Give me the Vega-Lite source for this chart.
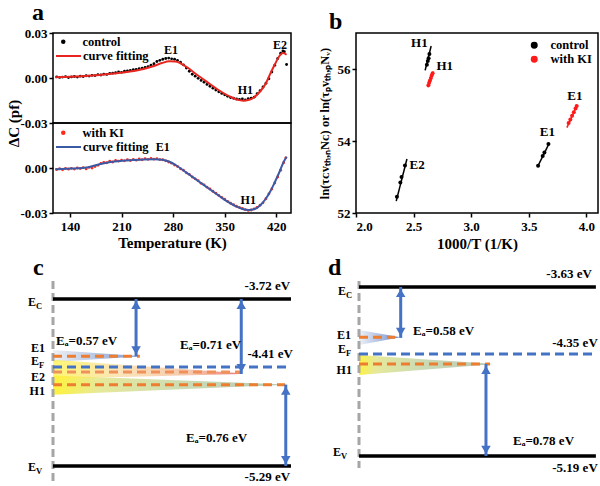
{
"$schema": "https://vega.github.io/schema/vega-lite/v6.json",
"padding": {"left": 5, "top": 0, "right": 0, "bottom": 0},
"background": "white",
"config": {
  "font": "Liberation Serif",
  "view": {"stroke": "black", "strokeWidth": 1.5},
  "axis": {"labelFont": "Liberation Serif", "labelFontWeight": "bold", "labelFontSize": 13, "labelColor": "black", "titleFont": "Liberation Serif", "titleFontSize": 15, "titleFontWeight": "bold", "titleColor": "black", "domain": false, "grid": false, "tickColor": "black", "tickSize": 4, "tickWidth": 1.5, "labelPadding": 2},
  "title": {"font": "Liberation Serif", "fontSize": 24, "fontWeight": "bold", "anchor": "start", "frame": "group", "color": "black"},
  "text": {"font": "Liberation Serif", "fontWeight": "bold", "fontSize": 13, "color": "black"},
  "legend": {"labelFont": "Liberation Serif", "labelFontWeight": "bold", "labelFontSize": 12.5, "labelColor": "black"}
},
"datasets": {
  "ctrl_fit": [
    {"T":120,"v":0.0005,"fit":"curve fitting"},{"T":140,"v":0.0008,"fit":"curve fitting"},{"T":160,"v":0.0013,"fit":"curve fitting"},{"T":180,"v":0.0020,"fit":"curve fitting"},{"T":200,"v":0.0030,"fit":"curve fitting"},{"T":220,"v":0.0042,"fit":"curve fitting"},{"T":240,"v":0.0060,"fit":"curve fitting"},{"T":255,"v":0.0082,"fit":"curve fitting"},{"T":265,"v":0.0100,"fit":"curve fitting"},{"T":275,"v":0.0111,"fit":"curve fitting"},{"T":283,"v":0.0110,"fit":"curve fitting"},{"T":290,"v":0.0098,"fit":"curve fitting"},{"T":300,"v":0.0068,"fit":"curve fitting"},{"T":310,"v":0.0030,"fit":"curve fitting"},{"T":320,"v":-0.0005,"fit":"curve fitting"},{"T":330,"v":-0.0040,"fit":"curve fitting"},{"T":340,"v":-0.0075,"fit":"curve fitting"},{"T":350,"v":-0.0105,"fit":"curve fitting"},{"T":360,"v":-0.0130,"fit":"curve fitting"},{"T":368,"v":-0.0146,"fit":"curve fitting"},{"T":375,"v":-0.0151,"fit":"curve fitting"},{"T":382,"v":-0.0147,"fit":"curve fitting"},{"T":390,"v":-0.0128,"fit":"curve fitting"},{"T":398,"v":-0.0090,"fit":"curve fitting"},{"T":406,"v":-0.0035,"fit":"curve fitting"},{"T":412,"v":0.0030,"fit":"curve fitting"},{"T":418,"v":0.0090,"fit":"curve fitting"},{"T":424,"v":0.0145,"fit":"curve fitting"},{"T":429,"v":0.0166,"fit":"curve fitting"},{"T":434,"v":0.0155,"fit":"curve fitting"}
  ],
  "ctrl_dots": [
    {"T":122,"v":0.0008,"s":"control"},{"T":126,"v":0.0004,"s":"control"},{"T":130,"v":0.0006,"s":"control"},{"T":134,"v":0.0009,"s":"control"},{"T":138,"v":0.0003,"s":"control"},{"T":142,"v":0.0007,"s":"control"},{"T":146,"v":0.0010,"s":"control"},{"T":150,"v":0.0006,"s":"control"},{"T":154,"v":0.0012,"s":"control"},{"T":158,"v":0.0010,"s":"control"},{"T":162,"v":0.0015,"s":"control"},{"T":166,"v":0.0013,"s":"control"},{"T":170,"v":0.0018,"s":"control"},{"T":174,"v":0.0016,"s":"control"},{"T":178,"v":0.0022,"s":"control"},{"T":182,"v":0.0020,"s":"control"},{"T":186,"v":0.0026,"s":"control"},{"T":190,"v":0.0024,"s":"control"},{"T":194,"v":0.0030,"s":"control"},{"T":198,"v":0.0032,"s":"control"},{"T":202,"v":0.0035,"s":"control"},{"T":206,"v":0.0040,"s":"control"},{"T":210,"v":0.0038,"s":"control"},{"T":214,"v":0.0045,"s":"control"},{"T":218,"v":0.0048,"s":"control"},{"T":222,"v":0.0050,"s":"control"},{"T":226,"v":0.0055,"s":"control"},{"T":230,"v":0.0058,"s":"control"},{"T":234,"v":0.0062,"s":"control"},{"T":238,"v":0.0066,"s":"control"},{"T":242,"v":0.0070,"s":"control"},{"T":246,"v":0.0076,"s":"control"},{"T":250,"v":0.0085,"s":"control"},{"T":254,"v":0.0095,"s":"control"},{"T":258,"v":0.0110,"s":"control"},{"T":262,"v":0.0118,"s":"control"},{"T":266,"v":0.0125,"s":"control"},{"T":270,"v":0.0130,"s":"control"},{"T":274,"v":0.0133,"s":"control"},{"T":278,"v":0.0128,"s":"control"},{"T":282,"v":0.0125,"s":"control"},{"T":286,"v":0.0118,"s":"control"},{"T":290,"v":0.0105,"s":"control"},{"T":294,"v":0.0088,"s":"control"},{"T":298,"v":0.0066,"s":"control"},{"T":302,"v":0.0045,"s":"control"},{"T":306,"v":0.0025,"s":"control"},{"T":310,"v":0.0012,"s":"control"},{"T":314,"v":-0.0002,"s":"control"},{"T":318,"v":-0.0016,"s":"control"},{"T":322,"v":-0.0028,"s":"control"},{"T":326,"v":-0.0043,"s":"control"},{"T":330,"v":-0.0055,"s":"control"},{"T":334,"v":-0.0068,"s":"control"},{"T":338,"v":-0.0080,"s":"control"},{"T":342,"v":-0.0092,"s":"control"},{"T":346,"v":-0.0103,"s":"control"},{"T":350,"v":-0.0112,"s":"control"},{"T":354,"v":-0.0122,"s":"control"},{"T":358,"v":-0.0130,"s":"control"},{"T":362,"v":-0.0135,"s":"control"},{"T":366,"v":-0.0140,"s":"control"},{"T":370,"v":-0.0143,"s":"control"},{"T":374,"v":-0.0140,"s":"control"},{"T":378,"v":-0.0146,"s":"control"},{"T":382,"v":-0.0138,"s":"control"},{"T":386,"v":-0.0135,"s":"control"},{"T":390,"v":-0.0128,"s":"control"},{"T":394,"v":-0.0105,"s":"control"},{"T":398,"v":-0.0085,"s":"control"},{"T":402,"v":-0.0060,"s":"control"},{"T":406,"v":-0.0035,"s":"control"},{"T":410,"v":-0.0005,"s":"control"},{"T":414,"v":0.0040,"s":"control"},{"T":418,"v":0.0085,"s":"control"},{"T":422,"v":0.0130,"s":"control"},{"T":426,"v":0.0165,"s":"control"},{"T":429,"v":0.0180,"s":"control"},{"T":431,"v":0.0175,"s":"control"},{"T":434,"v":0.0090,"s":"control"}
  ],
  "ki_fit": [
    {"T":120,"v":-0.0008,"fit":"curve fitting"},{"T":135,"v":-0.0005,"fit":"curve fitting"},{"T":150,"v":-0.0002,"fit":"curve fitting"},{"T":165,"v":0.0005,"fit":"curve fitting"},{"T":180,"v":0.0025,"fit":"curve fitting"},{"T":195,"v":0.0040,"fit":"curve fitting"},{"T":210,"v":0.0048,"fit":"curve fitting"},{"T":225,"v":0.0053,"fit":"curve fitting"},{"T":240,"v":0.0057,"fit":"curve fitting"},{"T":255,"v":0.0058,"fit":"curve fitting"},{"T":265,"v":0.0055,"fit":"curve fitting"},{"T":275,"v":0.0042,"fit":"curve fitting"},{"T":285,"v":0.0015,"fit":"curve fitting"},{"T":295,"v":-0.0020,"fit":"curve fitting"},{"T":305,"v":-0.0055,"fit":"curve fitting"},{"T":315,"v":-0.0090,"fit":"curve fitting"},{"T":325,"v":-0.0125,"fit":"curve fitting"},{"T":335,"v":-0.0160,"fit":"curve fitting"},{"T":345,"v":-0.0195,"fit":"curve fitting"},{"T":355,"v":-0.0228,"fit":"curve fitting"},{"T":365,"v":-0.0255,"fit":"curve fitting"},{"T":375,"v":-0.0275,"fit":"curve fitting"},{"T":383,"v":-0.0280,"fit":"curve fitting"},{"T":390,"v":-0.0275,"fit":"curve fitting"},{"T":398,"v":-0.0250,"fit":"curve fitting"},{"T":405,"v":-0.0210,"fit":"curve fitting"},{"T":412,"v":-0.0155,"fit":"curve fitting"},{"T":418,"v":-0.0095,"fit":"curve fitting"},{"T":424,"v":-0.0030,"fit":"curve fitting"},{"T":430,"v":0.0040,"fit":"curve fitting"},{"T":434,"v":0.0075,"fit":"curve fitting"}
  ],
  "ki_dots": [
    {"T":122,"v":-0.0010,"s":"with KI"},{"T":126,"v":-0.0005,"s":"with KI"},{"T":130,"v":-0.0012,"s":"with KI"},{"T":134,"v":-0.0003,"s":"with KI"},{"T":138,"v":-0.0008,"s":"with KI"},{"T":142,"v":-0.0002,"s":"with KI"},{"T":146,"v":-0.0007,"s":"with KI"},{"T":150,"v":0.0000,"s":"with KI"},{"T":154,"v":-0.0004,"s":"with KI"},{"T":158,"v":0.0003,"s":"with KI"},{"T":162,"v":-0.0006,"s":"with KI"},{"T":166,"v":0.0004,"s":"with KI"},{"T":170,"v":0.0000,"s":"with KI"},{"T":174,"v":0.0010,"s":"with KI"},{"T":178,"v":0.0018,"s":"with KI"},{"T":182,"v":0.0030,"s":"with KI"},{"T":186,"v":0.0038,"s":"with KI"},{"T":190,"v":0.0035,"s":"with KI"},{"T":194,"v":0.0045,"s":"with KI"},{"T":198,"v":0.0040,"s":"with KI"},{"T":202,"v":0.0050,"s":"with KI"},{"T":206,"v":0.0046,"s":"with KI"},{"T":210,"v":0.0052,"s":"with KI"},{"T":214,"v":0.0048,"s":"with KI"},{"T":218,"v":0.0055,"s":"with KI"},{"T":222,"v":0.0050,"s":"with KI"},{"T":226,"v":0.0058,"s":"with KI"},{"T":230,"v":0.0052,"s":"with KI"},{"T":234,"v":0.0060,"s":"with KI"},{"T":238,"v":0.0055,"s":"with KI"},{"T":242,"v":0.0062,"s":"with KI"},{"T":246,"v":0.0058,"s":"with KI"},{"T":250,"v":0.0064,"s":"with KI"},{"T":254,"v":0.0059,"s":"with KI"},{"T":258,"v":0.0062,"s":"with KI"},{"T":262,"v":0.0056,"s":"with KI"},{"T":266,"v":0.0055,"s":"with KI"},{"T":270,"v":0.0048,"s":"with KI"},{"T":274,"v":0.0040,"s":"with KI"},{"T":278,"v":0.0032,"s":"with KI"},{"T":282,"v":0.0020,"s":"with KI"},{"T":286,"v":0.0010,"s":"with KI"},{"T":290,"v":-0.0005,"s":"with KI"},{"T":294,"v":-0.0015,"s":"with KI"},{"T":298,"v":-0.0032,"s":"with KI"},{"T":302,"v":-0.0042,"s":"with KI"},{"T":306,"v":-0.0060,"s":"with KI"},{"T":310,"v":-0.0072,"s":"with KI"},{"T":314,"v":-0.0085,"s":"with KI"},{"T":318,"v":-0.0102,"s":"with KI"},{"T":322,"v":-0.0112,"s":"with KI"},{"T":326,"v":-0.0128,"s":"with KI"},{"T":330,"v":-0.0140,"s":"with KI"},{"T":334,"v":-0.0155,"s":"with KI"},{"T":338,"v":-0.0168,"s":"with KI"},{"T":342,"v":-0.0182,"s":"with KI"},{"T":346,"v":-0.0196,"s":"with KI"},{"T":350,"v":-0.0208,"s":"with KI"},{"T":354,"v":-0.0222,"s":"with KI"},{"T":358,"v":-0.0235,"s":"with KI"},{"T":362,"v":-0.0245,"s":"with KI"},{"T":366,"v":-0.0255,"s":"with KI"},{"T":370,"v":-0.0263,"s":"with KI"},{"T":374,"v":-0.0270,"s":"with KI"},{"T":378,"v":-0.0278,"s":"with KI"},{"T":382,"v":-0.0283,"s":"with KI"},{"T":386,"v":-0.0280,"s":"with KI"},{"T":390,"v":-0.0272,"s":"with KI"},{"T":394,"v":-0.0262,"s":"with KI"},{"T":398,"v":-0.0248,"s":"with KI"},{"T":402,"v":-0.0232,"s":"with KI"},{"T":406,"v":-0.0205,"s":"with KI"},{"T":410,"v":-0.0172,"s":"with KI"},{"T":414,"v":-0.0140,"s":"with KI"},{"T":418,"v":-0.0100,"s":"with KI"},{"T":422,"v":-0.0060,"s":"with KI"},{"T":426,"v":-0.0015,"s":"with KI"},{"T":430,"v":0.0035,"s":"with KI"},{"T":433,"v":0.0068,"s":"with KI"}
  ],
  "a_top_lbl": [{"T":277,"v":0.0187,"t":"E1"},{"T":425,"v":0.0222,"t":"E2"},{"T":378,"v":-0.0080,"t":"H1"}],
  "a_bot_lbl": [{"T":266,"v":0.0142,"t":"E1"},{"T":382,"v":-0.0213,"t":"H1"}],
  "b_lines": [
    {"g":"control","trap":"H1c","x":2.600,"y":55.96},{"g":"control","trap":"H1c","x":2.652,"y":56.64},
    {"g":"control","trap":"E1c","x":3.576,"y":53.29},{"g":"control","trap":"E1c","x":3.674,"y":53.92},
    {"g":"control","trap":"E2c","x":2.349,"y":52.33},{"g":"control","trap":"E2c","x":2.442,"y":53.50},
    {"g":"with KI","trap":"H1k","x":2.623,"y":55.49},{"g":"with KI","trap":"H1k","x":2.672,"y":55.93},
    {"g":"with KI","trap":"E1k","x":3.830,"y":54.37},{"g":"with KI","trap":"E1k","x":3.920,"y":55.00}
  ],
  "b_pts": [
    {"g":"control","x":2.615,"y":56.12},{"g":"control","x":2.623,"y":56.22},{"g":"control","x":2.630,"y":56.30},{"g":"control","x":2.637,"y":56.42},
    {"g":"control","x":2.355,"y":52.45},{"g":"control","x":2.385,"y":52.85},{"g":"control","x":2.395,"y":53.00},{"g":"control","x":2.425,"y":53.32},
    {"g":"control","x":3.580,"y":53.31},{"g":"control","x":3.620,"y":53.58},{"g":"control","x":3.635,"y":53.68},{"g":"control","x":3.670,"y":53.92},
    {"g":"with KI","x":2.628,"y":55.55},{"g":"with KI","x":2.635,"y":55.62},{"g":"with KI","x":2.642,"y":55.68},{"g":"with KI","x":2.650,"y":55.75},{"g":"with KI","x":2.657,"y":55.82},{"g":"with KI","x":2.665,"y":55.88},
    {"g":"with KI","x":3.845,"y":54.50},{"g":"with KI","x":3.860,"y":54.60},{"g":"with KI","x":3.875,"y":54.70},{"g":"with KI","x":3.890,"y":54.80},{"g":"with KI","x":3.905,"y":54.90},{"g":"with KI","x":3.915,"y":54.97}
  ],
  "b_lbl": [{"x":2.55,"y":56.72,"t":"H1"},{"x":2.77,"y":56.08,"t":"H1"},{"x":3.66,"y":54.26,"t":"E1"},{"x":3.90,"y":55.26,"t":"E1"},{"x":2.53,"y":53.34,"t":"E2"}],
  "c_wedge": [
    {"lvl":"E1","x":0,"top":-4.199,"bot":-4.312},{"lvl":"E1","x":0.36,"top":-4.257,"bot":-4.261},
    {"lvl":"E2","x":0,"top":-4.29,"bot":-4.47},{"lvl":"E2","x":0.79,"top":-4.418,"bot":-4.424},
    {"lvl":"H1","x":0,"top":-4.44,"bot":-4.62},{"lvl":"H1","x":0.98,"top":-4.523,"bot":-4.527}
  ],
  "c_gray": [{"x":0,"y":-3.551,"y2":-5.459}],
  "c_lines": [
    {"kind":"band","x":0,"x2":1,"y":-3.72},{"kind":"band","x":0,"x2":1,"y":-5.29},
    {"kind":"trap","x":0,"x2":0.365,"y":-4.259},{"kind":"trap2","x":0,"x2":0.79,"y":-4.406},{"kind":"trap","x":0,"x2":0.975,"y":-4.525},
    {"kind":"fermi","x":0,"x2":1,"y":-4.359}
  ],
  "c_arrows": [{"x":0.349,"y":-3.72,"y2":-4.259},{"x":0.791,"y":-3.72,"y2":-4.425},{"x":0.978,"y":-4.525,"y2":-5.29}],
  "c_lvl": [
    {"x":-0.071,"y":-3.748,"main":"E","sub":"C"},{"x":-0.034,"y":-4.185,"main":"E1","sub":""},{"x":-0.059,"y":-4.305,"main":"E","sub":"F"},{"x":-0.034,"y":-4.455,"main":"E2","sub":""},{"x":-0.034,"y":-4.585,"main":"H1","sub":""},{"x":-0.071,"y":-5.299,"main":"E","sub":"V"}
  ],
  "c_txt_r": [{"x":0.996,"y":-3.598,"t":"-3.72 eV"},{"x":1.008,"y":-4.237,"t":"-4.41 eV"},{"x":0.996,"y":-5.395,"t":"-5.29 eV"}],
  "c_txt_l": [{"x":0.013,"y":-4.115,"t":"Eₐ=0.57 eV"},{"x":0.534,"y":-4.152,"t":"Eₐ=0.71 eV"},{"x":0.559,"y":-5.026,"t":"Eₐ=0.76 eV"}],
  "d_wedge": [
    {"lvl":"E1","x":0,"top":-4.027,"bot":-4.166},{"lvl":"E1","x":0.17,"top":-4.092,"bot":-4.096},
    {"lvl":"H1","x":0,"top":-4.258,"bot":-4.443},{"lvl":"H1","x":0.56,"top":-4.339,"bot":-4.343}
  ],
  "d_gray": [{"x":0,"y":-3.575,"y2":-5.301}],
  "d_lines": [
    {"kind":"band","x":0,"x2":1,"y":-3.63},{"kind":"band","x":0,"x2":1,"y":-5.19},
    {"kind":"trap","x":0,"x2":0.152,"y":-4.094},{"kind":"trap","x":0,"x2":0.553,"y":-4.341},
    {"kind":"fermi","x":0,"x2":1,"y":-4.249}
  ],
  "d_arrows": [{"x":0.176,"y":-3.63,"y2":-4.10},{"x":0.536,"y":-4.341,"y2":-5.19}],
  "d_lvl": [
    {"x":-0.055,"y":-3.667,"main":"E","sub":"C"},{"x":-0.034,"y":-4.070,"main":"E1","sub":""},{"x":-0.055,"y":-4.205,"main":"E","sub":"F"},{"x":-0.030,"y":-4.400,"main":"H1","sub":""},{"x":-0.076,"y":-5.154,"main":"E","sub":"V"}
  ],
  "d_txt_r": [{"x":0.983,"y":-3.51,"t":"-3.63 eV"},{"x":1.008,"y":-4.147,"t":"-4.35 eV"},{"x":1.008,"y":-5.301,"t":"-5.19 eV"}],
  "d_txt_l": [{"x":0.228,"y":-4.036,"t":"Eₐ=0.58 eV"},{"x":0.65,"y":-5.052,"t":"Eₐ=0.78 eV"}]
},
"resolve": {"scale": {"color": "independent", "fill": "independent", "stroke": "independent", "x": "independent", "y": "independent"}, "legend": {"color": "independent", "fill": "independent", "stroke": "independent"}},
"spacing": 4,
"vconcat": [
  {
    "hconcat": [
      {
        "vconcat": [
          {
            "width": 238, "height": 90,
            "title": {"text": "a", "dx": -21, "offset": 2},
            "layer": [
              {"data": {"name": "ctrl_dots"}, "mark": {"type": "point", "filled": true, "size": 8, "opacity": 1},
               "encoding": {
                 "x": {"field": "T", "type": "quantitative", "scale": {"domain": [117, 440], "nice": false, "zero": false}, "axis": null},
                 "y": {"field": "v", "type": "quantitative", "scale": {"domain": [-0.03, 0.03], "nice": false, "zero": false},
                       "axis": {"values": [-0.03, 0, 0.03], "labelExpr": "replace(format(datum.value, '.2f'), '\u2212', '-')", "title": "\u0394C (pf)", "titleY": 90, "minExtent": 30, "maxExtent": 30, "titlePadding": 2}},
                 "fill": {"field": "s", "type": "nominal", "scale": {"domain": ["control"], "range": ["black"]},
                          "legend": {"orient": "none", "legendX": 4, "legendY": 2.5, "title": null, "symbolSize": 20, "symbolType": "circle", "labelOffset": 13, "padding": 0}}
               }},
              {"data": {"name": "ctrl_fit"}, "mark": {"type": "line", "strokeWidth": 2, "interpolate": "monotone"},
               "encoding": {"x": {"field": "T", "type": "quantitative"}, "y": {"field": "v", "type": "quantitative"},
                 "stroke": {"field": "fit", "type": "nominal", "scale": {"domain": ["curve fitting"], "range": ["#e8261f"]},
                            "legend": {"orient": "none", "legendX": 2, "legendY": 9.5, "title": null, "symbolType": "stroke", "symbolSize": 625, "symbolStrokeWidth": 2, "labelOffset": 1, "padding": 0}}}},
              {"data": {"name": "a_top_lbl"}, "mark": {"type": "text", "fontSize": 12},
               "encoding": {"x": {"field": "T", "type": "quantitative"}, "y": {"field": "v", "type": "quantitative"}, "text": {"field": "t"}}}
            ]
          },
          {
            "width": 238, "height": 90,
            "layer": [
              {"data": {"name": "ki_dots"}, "mark": {"type": "point", "filled": true, "size": 8, "opacity": 1},
               "encoding": {
                 "x": {"field": "T", "type": "quantitative", "scale": {"domain": [117, 440], "nice": false, "zero": false},
                       "axis": {"values": [140, 210, 280, 350, 420], "title": "Temperature (K)", "labelPadding": 3, "titlePadding": 2}},
                 "y": {"field": "v", "type": "quantitative", "scale": {"domain": [-0.03, 0.03], "nice": false, "zero": false},
                       "axis": {"values": [-0.03, 0], "labelExpr": "replace(format(datum.value, '.2f'), '\u2212', '-')", "title": null, "minExtent": 30, "maxExtent": 30}},
                 "fill": {"field": "s", "type": "nominal", "scale": {"domain": ["with KI"], "range": ["#ff2a1a"]},
                          "legend": {"orient": "none", "legendX": 4, "legendY": 3.5, "title": null, "symbolSize": 20, "symbolType": "circle", "labelOffset": 13, "padding": 0}}
               }},
              {"data": {"name": "ki_fit"}, "mark": {"type": "line", "strokeWidth": 2, "interpolate": "monotone"},
               "encoding": {"x": {"field": "T", "type": "quantitative"}, "y": {"field": "v", "type": "quantitative"},
                 "stroke": {"field": "fit", "type": "nominal", "scale": {"domain": ["curve fitting"], "range": ["#3b5aa6"]},
                            "legend": {"orient": "none", "legendX": 2, "legendY": 10.5, "title": null, "symbolType": "stroke", "symbolSize": 625, "symbolStrokeWidth": 2, "labelOffset": 1, "padding": 0}}}},
              {"data": {"name": "a_bot_lbl"}, "mark": {"type": "text", "fontSize": 12},
               "encoding": {"x": {"field": "T", "type": "quantitative"}, "y": {"field": "v", "type": "quantitative"}, "text": {"field": "t"}}}
            ]
          }
        ],
        "spacing": 0,
        "bounds": "flush",
        "resolve": {"scale": {"color": "independent", "fill": "independent", "stroke": "independent", "x": "independent", "y": "independent"}, "legend": {"color": "independent", "fill": "independent", "stroke": "independent"}}
      },
      {
        "width": 242, "height": 180,
        "title": {"text": "b", "dx": -27, "offset": -1},
        "layer": [
          {"data": {"name": "b_lines"}, "mark": {"type": "line", "strokeWidth": 1.5},
           "encoding": {
             "x": {"field": "x", "type": "quantitative", "scale": {"domain": [2.0, 4.1], "nice": false, "zero": false},
                   "axis": {"values": [2.0, 2.5, 3.0, 3.5, 4.0], "format": ".1f", "title": "1000/T (1/K)", "labelPadding": 3, "titlePadding": 3}},
             "y": {"field": "y", "type": "quantitative", "scale": {"domain": [52, 57], "nice": false, "zero": false},
                   "axis": {"values": [52, 53, 54, 55, 56, 57], "title": "ln(\u03c4\u1d04v\u209c\u2095,\u2099N\u1d04) or ln(\u03c4\u209av\u209c\u2095,\u209aN\u1d65)", "titleFontSize": 12.5, "minExtent": 20, "maxExtent": 20, "titlePadding": 5}},
             "color": {"field": "g", "type": "nominal", "scale": {"domain": ["control", "with KI"], "range": ["black", "#ff1a1a"]},
                       "legend": {"orient": "top-right", "title": null, "offset": 6, "symbolType": "circle", "symbolSize": 30, "rowPadding": 1, "labelOffset": 10}},
             "detail": {"field": "trap"}
           }},
          {"data": {"name": "b_pts"}, "mark": {"type": "point", "filled": true, "size": 16, "opacity": 1},
           "encoding": {"x": {"field": "x", "type": "quantitative"}, "y": {"field": "y", "type": "quantitative"}, "color": {"field": "g", "type": "nominal"}}},
          {"data": {"name": "b_lbl"}, "mark": {"type": "text", "fontSize": 13},
           "encoding": {"x": {"field": "x", "type": "quantitative"}, "y": {"field": "y", "type": "quantitative"}, "text": {"field": "t"}}}
        ]
      }
    ],
    "spacing": 25,
    "resolve": {"scale": {"color": "independent", "fill": "independent", "stroke": "independent", "x": "independent", "y": "independent"}, "legend": {"color": "independent", "fill": "independent", "stroke": "independent"}}
  },
  {
    "hconcat": [
      {
        "width": 243, "height": 218,
        "view": {"stroke": null},
        "title": {"text": "c", "dx": -20, "offset": -14},
        "encoding": {
          "x": {"field": "x", "type": "quantitative", "scale": {"domain": [0, 1.021], "nice": false, "zero": false}, "axis": null},
          "y": {"field": "y", "type": "quantitative", "scale": {"domain": [-5.459, -3.410], "nice": false, "zero": false}, "axis": null}
        },
        "layer": [
          {"data": {"name": "c_wedge"}, "transform": [{"filter": "datum.lvl === 'E1'"}],
           "mark": {"type": "area", "fill": {"gradient": "linear", "x1": 0, "y1": 0, "x2": 1, "y2": 0, "stops": [{"offset": 0, "color": "#eef1f6"}, {"offset": 1, "color": "#7f9bd0"}]}},
           "encoding": {"y": {"field": "top", "type": "quantitative"}, "y2": {"field": "bot"}}},
          {"data": {"name": "c_wedge"}, "transform": [{"filter": "datum.lvl === 'H1'"}],
           "mark": {"type": "area", "fill": {"gradient": "linear", "x1": 0, "y1": 0, "x2": 1, "y2": 0, "stops": [{"offset": 0, "color": "#fff23a"}, {"offset": 0.2, "color": "#e6e99a"}, {"offset": 0.6, "color": "#c9dab6"}, {"offset": 1, "color": "#b9c8b0"}]}},
           "encoding": {"y": {"field": "top", "type": "quantitative"}, "y2": {"field": "bot"}}},
          {"data": {"name": "c_wedge"}, "transform": [{"filter": "datum.lvl === 'E2'"}],
           "mark": {"type": "area", "opacity": 0.7, "fill": {"gradient": "linear", "x1": 0, "y1": 0, "x2": 1, "y2": 0, "stops": [{"offset": 0, "color": "#fff23a"}, {"offset": 0.35, "color": "#f8d99a"}, {"offset": 0.75, "color": "#f2ae8a"}, {"offset": 1, "color": "#e8402e"}]}},
           "encoding": {"y": {"field": "top", "type": "quantitative"}, "y2": {"field": "bot"}}},
          {"data": {"name": "c_gray"}, "mark": {"type": "rule", "color": "#a6a6a6", "strokeWidth": 3, "strokeDash": [8, 4]},
           "encoding": {"y2": {"field": "y2"}}},
          {"data": {"name": "c_lines"}, "transform": [{"filter": "datum.kind === 'band'"}], "mark": {"type": "rule", "color": "black", "strokeWidth": 3.5},
           "encoding": {"x2": {"field": "x2"}}},
          {"data": {"name": "c_lines"}, "transform": [{"filter": "datum.kind === 'trap'"}], "mark": {"type": "rule", "color": "#ED7D31", "strokeWidth": 3, "strokeDash": [9, 5]},
           "encoding": {"x2": {"field": "x2"}}},
          {"data": {"name": "c_lines"}, "transform": [{"filter": "datum.kind === 'trap2'"}], "mark": {"type": "rule", "color": "#F0905A", "strokeWidth": 3, "strokeDash": [9, 5]},
           "encoding": {"x2": {"field": "x2"}}},
          {"data": {"name": "c_lines"}, "transform": [{"filter": "datum.kind === 'fermi'"}], "mark": {"type": "rule", "color": "#4472C4", "strokeWidth": 3, "strokeDash": [9, 5]},
           "encoding": {"x2": {"field": "x2"}}},
          {"data": {"name": "c_arrows"}, "mark": {"type": "rule", "color": "#4472C4", "strokeWidth": 3},
           "encoding": {"y2": {"field": "y2"}}},
          {"data": {"name": "c_arrows"}, "mark": {"type": "point", "shape": "triangle-up", "filled": true, "color": "#4472C4", "size": 90, "opacity": 1, "yOffset": 6},
           "encoding": {}},
          {"data": {"name": "c_arrows"}, "mark": {"type": "point", "shape": "triangle-down", "filled": true, "color": "#4472C4", "size": 90, "opacity": 1, "yOffset": -6},
           "encoding": {"y": {"field": "y2", "type": "quantitative"}}},
          {"data": {"name": "c_lvl"}, "mark": {"type": "text", "align": "right", "baseline": "middle", "fontSize": 12},
           "encoding": {"text": {"field": "main"}}},
          {"data": {"name": "c_lvl"}, "mark": {"type": "text", "align": "left", "baseline": "middle", "fontSize": 8.5, "dy": 4},
           "encoding": {"text": {"field": "sub"}}},
          {"data": {"name": "c_txt_r"}, "mark": {"type": "text", "align": "right", "baseline": "middle", "fontSize": 13},
           "encoding": {"text": {"field": "t"}}},
          {"data": {"name": "c_txt_l"}, "mark": {"type": "text", "align": "left", "baseline": "middle", "fontSize": 13},
           "encoding": {"text": {"field": "t"}}}
        ]
      },
      {
        "width": 244, "height": 218,
        "view": {"stroke": null},
        "title": {"text": "d", "dx": -31, "offset": -14},
        "encoding": {
          "x": {"field": "x", "type": "quantitative", "scale": {"domain": [0, 1.030], "nice": false, "zero": false}, "axis": null},
          "y": {"field": "y", "type": "quantitative", "scale": {"domain": [-5.449, -3.436], "nice": false, "zero": false}, "axis": null}
        },
        "layer": [
          {"data": {"name": "d_wedge"}, "transform": [{"filter": "datum.lvl === 'E1'"}],
           "mark": {"type": "area", "fill": {"gradient": "linear", "x1": 0, "y1": 0, "x2": 1, "y2": 0, "stops": [{"offset": 0, "color": "#eef1f6"}, {"offset": 1, "color": "#6f8fcf"}]}},
           "encoding": {"y": {"field": "top", "type": "quantitative"}, "y2": {"field": "bot"}}},
          {"data": {"name": "d_wedge"}, "transform": [{"filter": "datum.lvl === 'H1'"}],
           "mark": {"type": "area", "fill": {"gradient": "linear", "x1": 0, "y1": 0, "x2": 1, "y2": 0, "stops": [{"offset": 0, "color": "#fff23a"}, {"offset": 0.12, "color": "#e6e99a"}, {"offset": 0.5, "color": "#c9dab6"}, {"offset": 1, "color": "#b9c8b0"}]}},
           "encoding": {"y": {"field": "top", "type": "quantitative"}, "y2": {"field": "bot"}}},
          {"data": {"name": "d_gray"}, "mark": {"type": "rule", "color": "#a6a6a6", "strokeWidth": 3, "strokeDash": [8, 4]},
           "encoding": {"y2": {"field": "y2"}}},
          {"data": {"name": "d_lines"}, "transform": [{"filter": "datum.kind === 'band'"}], "mark": {"type": "rule", "color": "black", "strokeWidth": 3.5},
           "encoding": {"x2": {"field": "x2"}}},
          {"data": {"name": "d_lines"}, "transform": [{"filter": "datum.kind === 'trap'"}], "mark": {"type": "rule", "color": "#ED7D31", "strokeWidth": 3, "strokeDash": [9, 5]},
           "encoding": {"x2": {"field": "x2"}}},
          {"data": {"name": "d_lines"}, "transform": [{"filter": "datum.kind === 'fermi'"}], "mark": {"type": "rule", "color": "#4472C4", "strokeWidth": 3, "strokeDash": [9, 5]},
           "encoding": {"x2": {"field": "x2"}}},
          {"data": {"name": "d_arrows"}, "mark": {"type": "rule", "color": "#4472C4", "strokeWidth": 3},
           "encoding": {"y2": {"field": "y2"}}},
          {"data": {"name": "d_arrows"}, "mark": {"type": "point", "shape": "triangle-up", "filled": true, "color": "#4472C4", "size": 90, "opacity": 1, "yOffset": 6},
           "encoding": {}},
          {"data": {"name": "d_arrows"}, "mark": {"type": "point", "shape": "triangle-down", "filled": true, "color": "#4472C4", "size": 90, "opacity": 1, "yOffset": -6},
           "encoding": {"y": {"field": "y2", "type": "quantitative"}}},
          {"data": {"name": "d_lvl"}, "mark": {"type": "text", "align": "right", "baseline": "middle", "fontSize": 12},
           "encoding": {"text": {"field": "main"}}},
          {"data": {"name": "d_lvl"}, "mark": {"type": "text", "align": "left", "baseline": "middle", "fontSize": 8.5, "dy": 4},
           "encoding": {"text": {"field": "sub"}}},
          {"data": {"name": "d_txt_r"}, "mark": {"type": "text", "align": "right", "baseline": "middle", "fontSize": 13},
           "encoding": {"text": {"field": "t"}}},
          {"data": {"name": "d_txt_l"}, "mark": {"type": "text", "align": "left", "baseline": "middle", "fontSize": 13},
           "encoding": {"text": {"field": "t"}}}
        ]
      }
    ],
    "spacing": 63,
    "bounds": "flush",
    "resolve": {"scale": {"color": "independent", "fill": "independent", "stroke": "independent", "x": "independent", "y": "independent"}, "legend": {"color": "independent", "fill": "independent", "stroke": "independent"}}
  }
]
}
